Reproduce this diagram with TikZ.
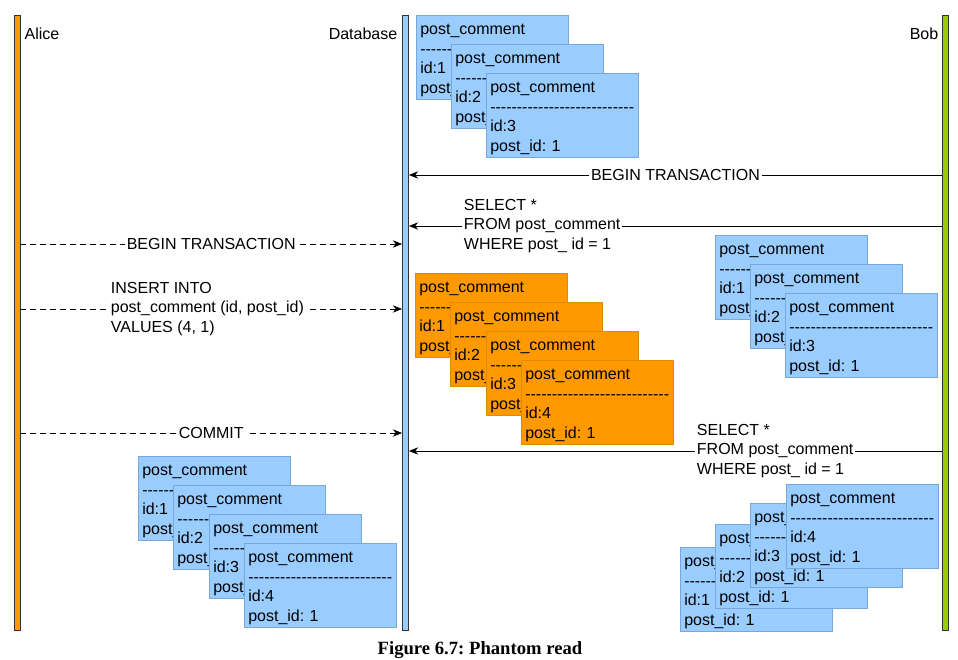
\documentclass[tikz,border=0pt]{standalone}
\usepackage{fontspec}
\setmainfont{Liberation Sans}
\newfontfamily\capfont{Liberation Serif}
\usetikzlibrary{arrows.meta}
\definecolor{boxblue}{HTML}{99CCFF}
\definecolor{boxblueline}{HTML}{7AA7D9}
\definecolor{boxorange}{HTML}{FF9900}
\definecolor{boxorangeline}{HTML}{E08A00}
\definecolor{alicecol}{HTML}{FF9900}
\definecolor{bobcol}{HTML}{99CC00}
\newcommand{\sepline}{\foreach \i in {1,...,27}{-\kern0pt}}
\newcommand{\pc}[1]{\rule{0pt}{12.8pt}post\_comment\\\sepline\\id:#1\\post\_id: 1}
\tikzset{
  lifeline/.style={draw=black!80, line width=0.6pt, minimum width=4.5pt, minimum height=461pt, inner sep=0pt, anchor=north},
  pcblue/.style={draw=boxblueline, fill=boxblue, anchor=north west, align=left, text width=108pt, minimum width=114pt, minimum height=63pt, inner xsep=3pt, inner ysep=0.5pt},
  pcorange/.style={pcblue, draw=boxorangeline, fill=boxorange},
  call/.style={-{Stealth[length=7pt,width=5.5pt]}, line width=0.6pt},
  calldash/.style={call, dash pattern=on 4.5pt off 3pt},
  lbl/.style={fill=white, inner sep=1.5pt, align=left}
}
\begin{document}
\begin{tikzpicture}[x=0.75pt, y=-0.75pt, every node/.style={font=\fontsize{12}{14.6}\selectfont\frenchspacing}]
  \useasboundingbox (0,0) rectangle (958,660);
  % lifelines
  \node[lifeline, fill=alicecol] (alice) at (17,15) {};
  \node[lifeline, fill=boxblue] (db) at (405.5,15) {};
  \node[lifeline, fill=bobcol] (bob) at (945.5,15) {};
  \node[anchor=west] (alicename) at (20,34) {Alice};
  \node[anchor=east] (dbname) at (402,34) {Database};
  \node[anchor=east] (bobname) at (943,34) {Bob};
  % rows seen by Bob first
  \node[pcblue] (a1) at (416,15) {\pc{1}};
  \node[pcblue] (a2) at (451,44) {\pc{2}};
  \node[pcblue] (a3) at (486,73) {\pc{3}};
  % messages
  \draw[call] (bob.west |- 0,175) -- node[lbl] {BEGIN TRANSACTION} (db.east |- 0,175);
  \draw[call] (bob.west |- 0,226) -- node[lbl, pos=0.75] {SELECT *\\FROM post\_comment\\WHERE post\_ id = 1} (db.east |- 0,226);
  \draw[calldash] (alice.east |- 0,244) -- node[lbl] {BEGIN TRANSACTION} (db.west |- 0,244);
  \draw[calldash] (alice.east |- 0,309) -- node[lbl, pos=0.49] {INSERT INTO\\post\_comment (id, post\_id)\\VALUES (4, 1)} (db.west |- 0,309);
  \draw[calldash] (alice.east |- 0,433) -- node[lbl] {COMMIT} (db.west |- 0,433);
  \draw[call] (bob.west |- 0,451) -- node[lbl, pos=0.313] {SELECT *\\FROM post\_comment\\WHERE post\_ id = 1} (db.east |- 0,451);
  % Bob's first result
  \node[pcblue] (b1) at (715,235) {\pc{1}};
  \node[pcblue] (b2) at (750,264) {\pc{2}};
  \node[pcblue] (b3) at (785,293) {\pc{3}};
  % Alice's insert
  \node[pcorange] (c1) at (415,273) {\pc{1}};
  \node[pcorange] (c2) at (450,302) {\pc{2}};
  \node[pcorange] (c3) at (486,331) {\pc{3}};
  \node[pcorange] (c4) at (521,360) {\pc{4}};
  % after commit
  \node[pcblue] (d1) at (138,456) {\pc{1}};
  \node[pcblue] (d2) at (173,485) {\pc{2}};
  \node[pcblue] (d3) at (209,514) {\pc{3}};
  \node[pcblue] (d4) at (244,543) {\pc{4}};
  % Bob's second result
  \node[pcblue] (e1) at (680,547) {\pc{1}};
  \node[pcblue] (e2) at (715,524) {\pc{2}};
  \node[pcblue] (e3) at (750,503) {\pc{3}};
  \node[pcblue] (e4) at (786,484) {\pc{4}};
  \node[font=\capfont\bfseries\fontsize{14}{16}\selectfont\frenchspacing] (caption) at (480,650) {Figure 6.7: Phantom read};
\end{tikzpicture}
\end{document}
